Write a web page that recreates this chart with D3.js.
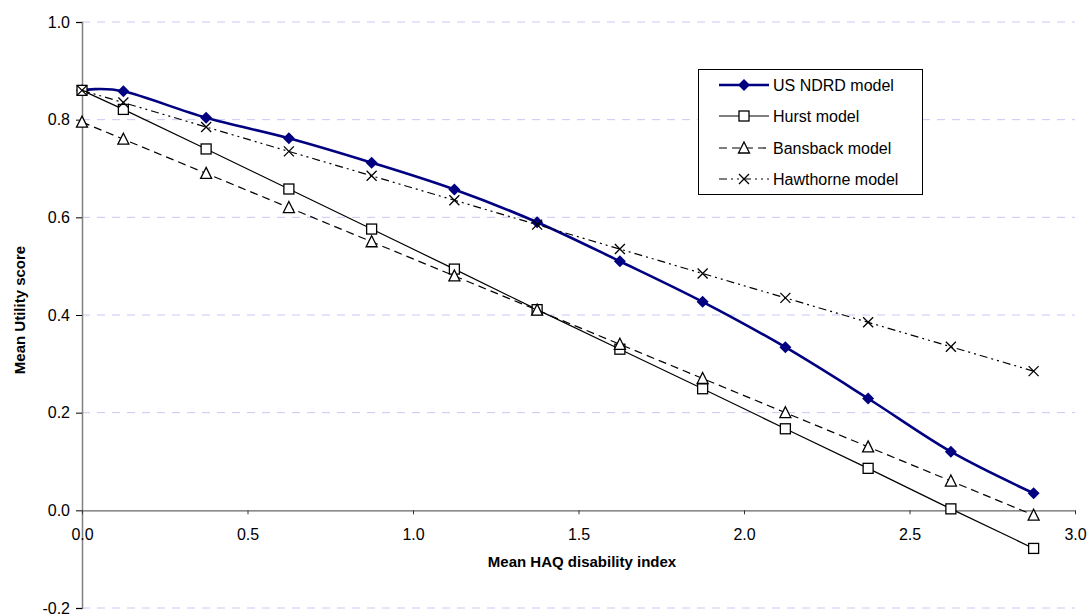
<!DOCTYPE html>
<html>
<head>
<meta charset="utf-8">
<script src="https://cdn.jsdelivr.net/npm/d3@7"></script>
<style>
    body { margin: 0; background: #fff; }
    svg { font-family: "Liberation Sans", Arial, sans-serif; }
</style>
</head>
<body>
<div id="svgContainer"></div>
<script>
// data
const haq = [0, 0.125, 0.375, 0.625, 0.875, 1.125, 1.375, 1.625, 1.875, 2.125, 2.375, 2.625, 2.875];
const ndrd = [0.86, 0.858, 0.804, 0.762, 0.712, 0.657, 0.59, 0.51, 0.427, 0.334, 0.229, 0.12, 0.035];
const hurst = [0.86, 0.821, 0.74, 0.658, 0.576, 0.494, 0.411, 0.33, 0.249, 0.167, 0.086, 0.003, -0.078];
const bansback = [0.795, 0.76, 0.69, 0.62, 0.55, 0.48, 0.41, 0.34, 0.27, 0.2, 0.13, 0.06, -0.01];
const hawthorne = [0.86, 0.835, 0.785, 0.735, 0.685, 0.635, 0.585, 0.535, 0.485, 0.435, 0.385, 0.335, 0.285];
const seriesNames = ["US NDRD model", "Hurst model", "Bansback model", "Hawthorne model"];
const xTicks = [0, 0.5, 1, 1.5, 2, 2.5, 3];
const yTicks = [-0.2, 0, 0.2, 0.4, 0.6, 0.8, 1.0];

var chart = (function () {
    const width = 1088;
    const height = 614;
    const left = 82, right = 1075, top = 22, bottom = 608;
    const navy = "#000080";
    const gridColor = "#c8c8f4";
    let svg;

    let x = d3.scaleLinear().domain([0, 3]).range([left, right]);
    let y = d3.scaleLinear().domain([-0.2, 1.0]).range([bottom, top]);
    // plain hyphen for negatives, like the original
    let fmt = d => d3.format(".1f")(d).replace("\u2212", "-");

    let series = [
        { name: seriesNames[0], values: ndrd, color: navy, width: 2.6, dash: null, marker: "diamond", smooth: true },
        { name: seriesNames[1], values: hurst, color: "#000", width: 1.2, dash: null, marker: "square", smooth: false },
        { name: seriesNames[2], values: bansback, color: "#000", width: 1.2, dash: "8,5", marker: "triangle", smooth: false },
        { name: seriesNames[3], values: hawthorne, color: "#000", width: 1.2, dash: "8,4,2,4,2,4", marker: "cross", smooth: false }
    ];

    function init() {
        svg = d3.select("#svgContainer")
            .append("svg")
            .attr("width", width)
            .attr("height", height);
        drawGrid();
        drawAxes();
        series.forEach(drawSeries);
        drawLegend();
    }

    function drawGrid() {
        svg.append("g")
            .selectAll("line")
            .data(yTicks.filter(t => t !== 0))
            .join("line")
            .attr("x1", left)
            .attr("x2", right)
            .attr("y1", d => y(d))
            .attr("y2", d => y(d))
            .attr("stroke", gridColor)
            .attr("stroke-width", 1)
            .attr("stroke-dasharray", "8,7");
    }

    function drawAxes() {
        let yAxis = svg.append("g")
            .attr("transform", `translate(${left},0)`)
            .call(d3.axisLeft(y).tickValues(yTicks).tickFormat(fmt).tickSize(6).tickPadding(6));
        yAxis.select(".domain").attr("stroke", "#808080").attr("stroke-width", 1.5);
        yAxis.selectAll(".tick line").attr("stroke", "#000");
        yAxis.selectAll("text").attr("font-size", 16).attr("fill", "#000")
            .attr("font-family", "Liberation Sans, Arial, sans-serif");

        let xAxis = svg.append("g")
            .attr("transform", `translate(0,${y(0)})`)
            .call(d3.axisBottom(x).tickValues(xTicks).tickFormat(fmt).tickSize(4).tickSizeOuter(0).tickPadding(14));
        xAxis.select(".domain").attr("stroke", "#666").attr("stroke-width", 1.2);
        xAxis.selectAll(".tick line").attr("stroke", "#333");
        xAxis.selectAll("text").attr("font-size", 16).attr("fill", "#000")
            .attr("font-family", "Liberation Sans, Arial, sans-serif");

        svg.append("text")
            .attr("x", 582)
            .attr("y", 567)
            .attr("text-anchor", "middle")
            .attr("font-size", 15)
            .attr("font-weight", "bold")
            .text("Mean HAQ disability index");

        svg.append("text")
            .attr("transform", "translate(25,310) rotate(-90)")
            .attr("text-anchor", "middle")
            .attr("font-size", 15)
            .attr("font-weight", "bold")
            .text("Mean Utility score");
    }

    function drawMarker(g, type, cx, cy, color) {
        if (type === "diamond") {
            g.append("path")
                .attr("d", `M${cx},${cy - 6}L${cx + 6},${cy}L${cx},${cy + 6}L${cx - 6},${cy}Z`)
                .attr("fill", color);
        } else if (type === "square") {
            g.append("rect")
                .attr("x", cx - 5).attr("y", cy - 5)
                .attr("width", 10).attr("height", 10)
                .attr("fill", "#fff").attr("stroke", color).attr("stroke-width", 1.3);
        } else if (type === "triangle") {
            g.append("path")
                .attr("d", `M${cx},${cy - 6}L${cx + 5.5},${cy + 5}L${cx - 5.5},${cy + 5}Z`)
                .attr("fill", "#fff").attr("stroke", color).attr("stroke-width", 1.3);
        } else if (type === "cross") {
            g.append("path")
                .attr("d", `M${cx - 5},${cy - 5}L${cx + 5},${cy + 5}M${cx - 5},${cy + 5}L${cx + 5},${cy - 5}`)
                .attr("stroke", color).attr("stroke-width", 1.3);
        }
    }

    function drawSeries(s) {
        let pts = haq.map((h, i) => [h, s.values[i]]);
        let line = d3.line()
            .x(d => x(d[0]))
            .y(d => y(d[1]))
            .curve(s.smooth ? d3.curveCardinal.tension(0) : d3.curveLinear);
        svg.append("path")
            .datum(pts)
            .attr("d", line)
            .attr("fill", "none")
            .attr("stroke", s.color)
            .attr("stroke-width", s.width)
            .attr("stroke-dasharray", s.dash);
        let g = svg.append("g");
        pts.forEach(p => drawMarker(g, s.marker, x(p[0]), y(p[1]), s.color));
    }

    function drawLegend() {
        let g = svg.append("g");
        g.append("rect")
            .attr("x", 698.5).attr("y", 69.5)
            .attr("width", 224).attr("height", 125)
            .attr("fill", "#fff")
            .attr("stroke", "#000")
            .attr("stroke-width", 1);
        let rowY = [85, 116, 148, 179];
        series.forEach((s, i) => {
            g.append("line")
                .attr("x1", 719).attr("x2", 769)
                .attr("y1", rowY[i]).attr("y2", rowY[i])
                .attr("stroke", s.color)
                .attr("stroke-width", s.width)
                .attr("stroke-dasharray", s.dash);
            drawMarker(g, s.marker, 744, rowY[i], s.color);
            g.append("text")
                .attr("x", 773)
                .attr("y", rowY[i])
                .attr("dy", "0.35em")
                .attr("font-size", 16)
                .text(s.name);
        });
    }

    return { init: init };
})();

chart.init();
</script>
</body>
</html>
